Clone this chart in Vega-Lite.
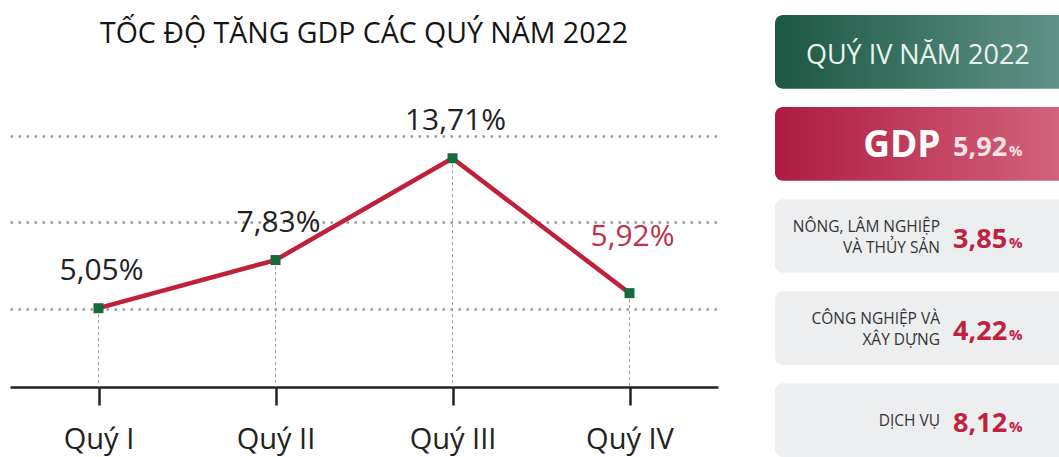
{
  "$schema": "https://vega.github.io/schema/vega-lite/v6.json",
  "padding": {"left": 10, "top": 15, "right": 0, "bottom": 0},
  "background": "white",
  "spacing": 57,
  "config": {
    "view": {"stroke": null},
    "font": "Open Sans",
    "locale": {"number": {"decimal": ",", "thousands": ".", "grouping": [3], "currency": ["", " đ"]}}
  },
  "datasets": {
    "gdp": [
      {"quarter": "Quý I", "growth": 5.05, "label": "5,05%", "latest": false},
      {"quarter": "Quý II", "growth": 7.83, "label": "7,83%", "latest": false},
      {"quarter": "Quý III", "growth": 13.71, "label": "13,71%", "latest": false},
      {"quarter": "Quý IV", "growth": 5.92, "label": "5,92%", "latest": true}
    ],
    "panel": [
      {"item": "header", "kind": "header", "name": "QUÝ IV NĂM 2022", "growth": null},
      {"item": "gdp", "kind": "gdp", "name": "GDP", "growth": 5.92},
      {"item": "nlts", "kind": "sector", "name": ["NÔNG, LÂM NGHIỆP", "VÀ THỦY SẢN"], "growth": 3.85},
      {"item": "cnxd", "kind": "sector", "name": ["CÔNG NGHIỆP VÀ", "XÂY DỰNG"], "growth": 4.22},
      {"item": "dv", "kind": "sector", "name": "DỊCH VỤ", "growth": 8.12}
    ]
  },
  "hconcat": [
    {
      "width": 708,
      "height": 372,
      "title": {"text": "TỐC ĐỘ TĂNG GDP CÁC QUÝ NĂM 2022", "fontSize": 28.5, "fontWeight": "normal", "font": "Open Sans", "color": "#151515", "anchor": "middle", "offset": -33},
      "data": {"name": "gdp"},
      "encoding": {
        "x": {
          "field": "quarter", "type": "ordinal", "sort": null,
          "scale": {"type": "point", "padding": 0.5},
          "axis": {"title": null, "labelAngle": 0, "labelFontSize": 29, "labelColor": "#222", "labelFont": "Open Sans", "labelPadding": 20, "domainColor": "#222", "domainWidth": 2.5, "tickColor": "#222", "tickWidth": 2.5, "tickSize": 18, "grid": false}
        },
        "y": {
          "field": "growth", "type": "quantitative",
          "scale": {"domain": [0.5, 21.98], "zero": false, "nice": false},
          "axis": {"title": null, "labels": false, "ticks": false, "domain": false, "grid": true, "values": [5, 10, 15], "gridColor": "#9a9a9a", "gridDash": [2.5, 5.5], "gridWidth": 2.5, "minExtent": 0}
        }
      },
      "layer": [
        {"mark": {"type": "rule", "color": "#a0a0a0", "strokeDash": [3, 3], "strokeWidth": 1}, "encoding": {"y2": {"datum": 0.5}}},
        {"mark": {"type": "line", "color": "#c0203a", "strokeWidth": 4.5}},
        {"mark": {"type": "point", "shape": "square", "filled": true, "size": 100, "color": "#176b3a", "opacity": 1}},
        {"transform": [{"filter": "!datum.latest"}], "mark": {"type": "text", "dy": -37, "dx": 3, "fontSize": 30, "color": "#222", "font": "Open Sans"}, "encoding": {"text": {"field": "label"}}},
        {"transform": [{"filter": "datum.latest"}], "mark": {"type": "text", "dy": -56, "dx": 3, "fontSize": 30, "color": "#c0304a", "font": "Open Sans"}, "encoding": {"text": {"field": "label"}}}
      ]
    },
    {
      "width": 284,
      "height": 442,
      "data": {"name": "panel"},
      "encoding": {
        "y": {"field": "item", "type": "nominal", "sort": null, "scale": {"type": "band", "paddingInner": 0.2, "paddingOuter": 0}, "axis": null}
      },
      "layer": [
        {
          "transform": [{"filter": "datum.kind == 'header'"}],
          "mark": {"type": "rect", "cornerRadius": 8, "clip": true, "color": {"gradient": "linear", "x1": 0, "y1": 0, "x2": 1, "y2": 0, "stops": [{"offset": 0, "color": "#1c5743"}, {"offset": 1, "color": "#62958a"}]}},
          "encoding": {"x": {"datum": 0, "type": "quantitative", "scale": {"domain": [0, 1]}, "axis": null}, "x2": {"datum": 1.04}}
        },
        {
          "transform": [{"filter": "datum.kind == 'gdp'"}],
          "mark": {"type": "rect", "cornerRadius": 8, "clip": true, "color": {"gradient": "linear", "x1": 0, "y1": 0, "x2": 1, "y2": 0, "stops": [{"offset": 0, "color": "#ad1c40"}, {"offset": 1, "color": "#d5657e"}]}},
          "encoding": {"x": {"datum": 0, "type": "quantitative", "scale": {"domain": [0, 1]}, "axis": null}, "x2": {"datum": 1.04}}
        },
        {
          "transform": [{"filter": "datum.kind == 'sector'"}],
          "mark": {"type": "rect", "cornerRadius": 8, "clip": true, "color": "#edeef0"},
          "encoding": {"x": {"datum": 0, "type": "quantitative", "scale": {"domain": [0, 1]}, "axis": null}, "x2": {"datum": 1.04}}
        },
        {
          "transform": [{"filter": "datum.kind == 'header'"}],
          "mark": {"type": "text", "align": "center", "baseline": "middle", "dy": 4, "fontSize": 27, "color": "#eaf3f0", "font": "Open Sans"},
          "encoding": {"x": {"datum": 0.503, "type": "quantitative"}, "text": {"field": "name"}}
        },
        {
          "transform": [{"filter": "datum.kind == 'gdp'"}],
          "mark": {"type": "text", "align": "right", "baseline": "alphabetic", "dy": 13, "fontSize": 37, "fontWeight": "bold", "color": "#ffffff", "font": "Open Sans"},
          "encoding": {"x": {"datum": 0.583, "type": "quantitative"}, "text": {"field": "name"}}
        },
        {
          "transform": [{"filter": "datum.kind == 'sector' && isArray(datum.name)"}],
          "mark": {"type": "text", "align": "right", "baseline": "middle", "dy": -9, "fontSize": 15.5, "lineHeight": 21, "color": "#333333", "font": "Open Sans"},
          "encoding": {"x": {"datum": 0.581, "type": "quantitative"}, "text": {"field": "name"}}
        },
        {
          "transform": [{"filter": "datum.kind == 'sector' && !isArray(datum.name)"}],
          "mark": {"type": "text", "align": "right", "baseline": "middle", "dy": 1, "fontSize": 15.5, "color": "#333333", "font": "Open Sans"},
          "encoding": {"x": {"datum": 0.581, "type": "quantitative"}, "text": {"field": "name"}}
        },
        {
          "transform": [{"filter": "datum.kind == 'gdp'"}],
          "mark": {"type": "text", "align": "left", "baseline": "alphabetic", "dy": 12, "fontSize": 27, "fontWeight": "bold", "color": "#f6e1e6", "font": "Open Sans"},
          "encoding": {"x": {"datum": 0.627, "type": "quantitative"}, "text": {"field": "growth", "type": "quantitative", "format": ".2f"}}
        },
        {
          "transform": [{"filter": "datum.kind == 'gdp'"}],
          "mark": {"type": "text", "align": "left", "baseline": "alphabetic", "dy": 12, "dx": 56, "fontSize": 15, "fontWeight": "bold", "color": "#f6e1e6", "font": "Open Sans"},
          "encoding": {"x": {"datum": 0.627, "type": "quantitative"}, "text": {"value": "%"}}
        },
        {
          "transform": [{"filter": "datum.kind == 'sector'"}],
          "mark": {"type": "text", "align": "left", "baseline": "alphabetic", "dy": 12, "fontSize": 27, "fontWeight": "bold", "color": "#c0213f", "font": "Open Sans"},
          "encoding": {"x": {"datum": 0.627, "type": "quantitative"}, "text": {"field": "growth", "type": "quantitative", "format": ".2f"}}
        },
        {
          "transform": [{"filter": "datum.kind == 'sector'"}],
          "mark": {"type": "text", "align": "left", "baseline": "alphabetic", "dy": 12, "dx": 56, "fontSize": 15, "fontWeight": "bold", "color": "#c0213f", "font": "Open Sans"},
          "encoding": {"x": {"datum": 0.627, "type": "quantitative"}, "text": {"value": "%"}}
        }
      ]
    }
  ]
}
